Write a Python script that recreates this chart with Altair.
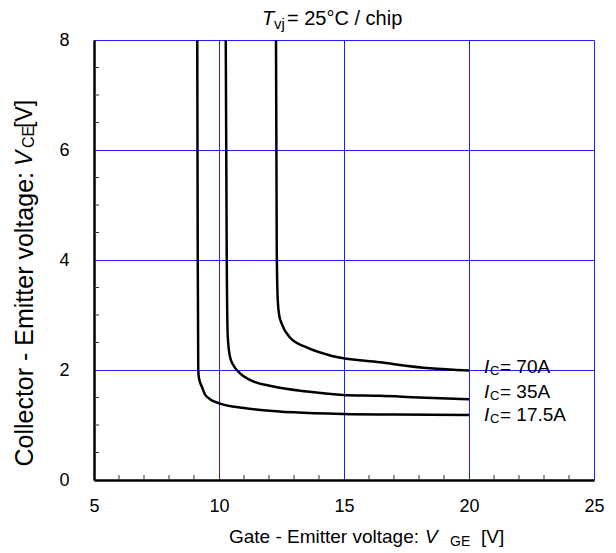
import altair as alt
import pandas as pd

# ---- data ----
vge_175 = [9.13, 9.15, 9.17, 9.20, 9.31, 9.44, 9.64, 10.04, 11.0, 11.77, 13.0, 14.97, 17.0, 20.0]
vce_175 = [8.0, 4.0, 2.0, 1.85, 1.70, 1.555, 1.47, 1.39, 1.31, 1.27, 1.23, 1.20, 1.19, 1.18]

vge_35 = [10.27, 10.31, 10.35, 10.44, 10.57, 10.84, 11.24, 12.17, 13.51, 14.97, 16.44, 18.0, 20.0]
vce_35 = [8.0, 4.0, 2.61, 2.24, 2.09, 1.94, 1.82, 1.70, 1.61, 1.545, 1.53, 1.50, 1.47]

vge_70 = [12.28, 12.31, 12.35, 12.41, 12.51, 12.84, 13.51, 14.57, 16.44, 18.44, 20.0]
vce_70 = [8.0, 4.2, 3.27, 2.99, 2.84, 2.59, 2.41, 2.25, 2.14, 2.03, 1.99]

series_names = ["17.5A", "35A", "70A"]
label_vge = [20.6, 20.6, 20.6]
label_vce = [1.18, 1.60, 2.05]
label_rest = ["= 17.5A", "= 35A", "= 70A"]

x_major = [5, 10, 15, 20, 25]
y_major = [0, 2, 4, 6, 8]
x_minor = [6, 7, 8, 9, 11, 12, 13, 14, 16, 17, 18, 19, 21, 22, 23, 24]
y_minor = [0.5, 1, 1.5, 2.5, 3, 3.5, 4.5, 5, 5.5, 6.5, 7, 7.5]

FONT = "Liberation Sans"
W, H = 500, 440

rows = []
for name, xs, ys in [("17.5A", vge_175, vce_175), ("35A", vge_35, vce_35), ("70A", vge_70, vce_70)]:
    for i, (a, b) in enumerate(zip(xs, ys)):
        rows.append({"series": name, "vge": a, "vce": b, "order": i})
curves_df = pd.DataFrame(rows)

labels_df = pd.DataFrame({"series": series_names, "vge": label_vge, "vce": label_vce, "rest": label_rest})

xscale = alt.Scale(domain=[5, 25], nice=False, zero=False)
yscale = alt.Scale(domain=[0, 8], nice=False, zero=False)

xaxis = alt.Axis(values=x_major, title=None, ticks=False, labelPadding=17, labelFontSize=18,
                 labelFont=FONT, labelColor="black", domainColor="black", domainWidth=2.5,
                 grid=True, gridColor="#1f1fff", gridWidth=1, gridOpacity=1, labelFlush=False)
yaxis = alt.Axis(values=y_major, title=None, ticks=False, labelPadding=25, labelFontSize=18,
                 labelFont=FONT, labelColor="black", domainColor="black", domainWidth=2.5,
                 grid=True, gridColor="#1f1fff", gridWidth=1, gridOpacity=1, labelFlush=False)


def X():
    return alt.X("vge:Q", scale=xscale, axis=xaxis)


def Y():
    return alt.Y("vce:Q", scale=yscale, axis=yaxis)


curves = alt.Chart(curves_df).mark_line(color="black", strokeWidth=2.5, interpolate="monotone").encode(
    x=X(), y=Y(), detail="series:N", order="order:Q"
)

xminor = alt.Chart(pd.DataFrame({"vge": x_minor})).mark_rule(color="#333333", strokeWidth=1).encode(
    x=X(), y=alt.value(H), y2=alt.value(H - 5)
)
yminor = alt.Chart(pd.DataFrame({"vce": y_minor})).mark_rule(color="#333333", strokeWidth=1).encode(
    y=Y(), x=alt.value(0), x2=alt.value(5)
)

lab_I = alt.Chart(labels_df).mark_text(align="left", baseline="middle", font=FONT, fontSize=19,
                                        fontStyle="italic", color="black").encode(
    x=X(), y=Y(), text=alt.value("I")
)
lab_C = alt.Chart(labels_df).mark_text(align="left", baseline="middle", font=FONT, fontSize=13,
                                        dx=6, dy=4, color="black").encode(
    x=X(), y=Y(), text=alt.value("C")
)
lab_rest = alt.Chart(labels_df).mark_text(align="left", baseline="middle", font=FONT, fontSize=19,
                                           dx=16, color="black").encode(
    x=X(), y=Y(), text="rest:N"
)


def txt(t, x, y, size, italic=False, align="left", angle=0, baseline="alphabetic"):
    kw = dict(align=align, baseline=baseline, font=FONT, fontSize=size, color="black")
    if italic:
        kw["fontStyle"] = "italic"
    if angle:
        kw["angle"] = angle
    return alt.Chart(pd.DataFrame({"t": [t]})).mark_text(**kw).encode(
        x=alt.value(x), y=alt.value(y), text="t:N"
    )


# title: T_vj= 25°C / chip
title_parts = [
    txt("T", 168, -15, 20, italic=True),
    txt("vj", 180, -11, 15),
    txt("= 25°C / chip", 193, -15, 20),
]

# x title: Gate - Emitter voltage: V_GE [V]
xtitle_parts = [
    txt("Gate - Emitter voltage:", 325, 503, 19, align="right"),
    txt("V", 331, 503, 19, italic=True),
    txt("GE", 356, 506, 14),
    txt("[V]", 387, 503, 19),
]

# y title (rotated): Collector - Emitter voltage: V_CE [V]
ytitle_parts = [
    txt("Collector - Emitter voltage:", -69, 132, 25, align="right", angle=270, baseline="middle"),
    txt("V", -69, 126, 23, italic=True, align="left", angle=270, baseline="middle"),
    txt("CE", -65, 108, 16, align="left", angle=270, baseline="middle"),
    txt("[V]", -69, 88, 23, align="left", angle=270, baseline="middle"),
]

chart = alt.layer(
    xminor, yminor, curves, lab_I, lab_C, lab_rest,
    *title_parts, *xtitle_parts, *ytitle_parts
).properties(
    width=W, height=H,
    autosize=alt.AutoSizeParams(type="none"),
    padding={"left": 86, "top": 32, "right": 14, "bottom": 70},
).configure_view(stroke=None).configure(background="white")

chart.save("out.html", embed_options={"renderer": "svg", "actions": False})
